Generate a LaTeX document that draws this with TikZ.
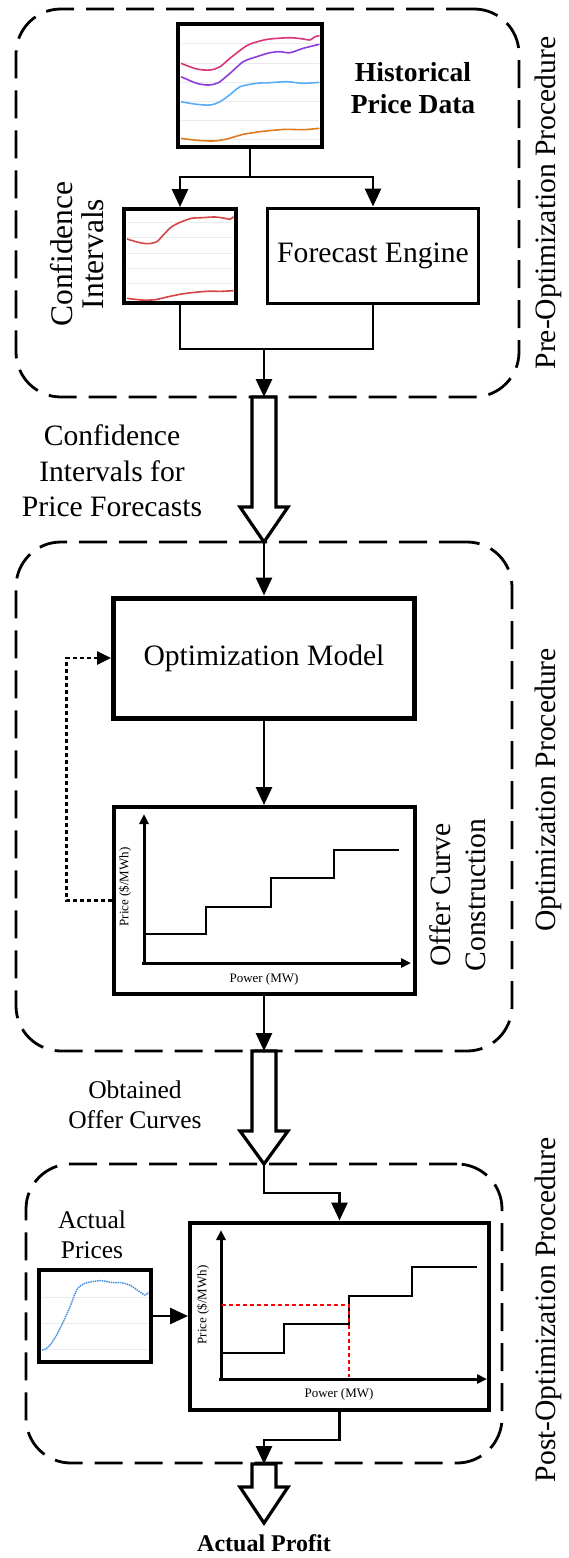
\documentclass[tikz,border=0pt]{standalone}
\usepackage{fontspec}
\setmainfont{Liberation Serif}
\usetikzlibrary{arrows.meta}
\definecolor{cpink}{HTML}{D9357A}
\definecolor{cpurple}{HTML}{8E3CDB}
\definecolor{cblue}{HTML}{5AAEF7}
\definecolor{corange}{HTML}{E07A1F}
\definecolor{cred}{HTML}{D44545}
\definecolor{cdot}{HTML}{4A90E2}
\definecolor{cgrid}{HTML}{EBEBEB}
\newcommand\myfs[2]{\fontsize{#1}{#2}\selectfont}
\newcommand\harrow[3]{\draw[hollow] (252,#1) -- (276,#1) -- (276,#2) -- (288,#2) -- (264,#3) -- (240,#2) -- (252,#2) -- cycle;}
\begin{document}
\begin{tikzpicture}[x=1pt,y=-1pt,
 box/.style={draw, line width=4pt, inner sep=0pt, fill=white},
 secbox/.style={draw, line width=2.8pt, dash pattern=on 28pt off 12pt, rounded corners=45pt, inner sep=0pt},
 conn/.style={line width=2.8pt},
 arr/.style={line width=2.8pt, -{Triangle[length=18pt,width=16pt]}},
 dotarr/.style={line width=2.6pt, dash pattern=on 4pt off 3pt, -{Triangle[length=14pt,width=13pt]}},
 axarr/.style={line width=3pt, -{Triangle[length=10pt,width=9pt]}},
 hollow/.style={draw, line width=3.2pt, fill=white, miter limit=20},
 stepline/.style={line width=1.6pt},
 gridln/.style={cgrid, line width=1pt},
 crv/.style={line width=1.6pt},
 lbl/.style={font=\myfs{29.6}{35.5}, align=center, inner sep=0pt},
 sml/.style={font=\myfs{25.5}{30}, align=center, inner sep=0pt},
 ax/.style={font=\myfs{13}{15}, inner sep=0pt},
]
\useasboundingbox (0,0) rectangle (568,1558);
\fill[white] (0,0) rectangle (568,1558);

% ---------- section frames ----------
\node[secbox, minimum width=503pt, minimum height=388pt] (sec1) at (267.5,203) {};
\node[secbox, minimum width=496pt, minimum height=509pt] (sec2) at (264,796.5) {};
\node[secbox, minimum width=476pt, minimum height=299pt] (sec3) at (264,1313.5) {};

\node[lbl, rotate=90] (sec1lbl) at (548,203) {Pre-Optimization Procedure};
\node[lbl, rotate=90] (sec2lbl) at (548,790) {Optimization Procedure};
\node[lbl, rotate=90] (sec3lbl) at (548,1310) {Post-Optimization Procedure};

% ---------- historical price data ----------
\node[box, minimum width=144pt, minimum height=123pt] (hist) at (250,85.5) {};
\foreach \g in {43,63,82,101,120,139} \draw[gridln] (181,\g) -- (319,\g);
\draw[crv, cpink] plot[smooth] coordinates {(181,63.3) (196.7,69) (210,70) (220,66.7) (230,58.3) (246.7,45.7) (260,41) (270,39) (290,37.7) (303.3,39) (310,40) (315,36.7) (319.5,35.7)};
\draw[crv, cpurple] plot[smooth] coordinates {(181,76.7) (196.7,83.3) (208.3,85) (218.3,82.7) (230,73.3) (243.3,61.7) (256.7,56.7) (270,52.7) (280,51.7) (290,52.7) (303.3,48.3) (319.5,44.3)};
\draw[crv, cblue] plot[smooth] coordinates {(181,101.7) (196.7,104.3) (210,105) (220,101.7) (231.7,93.3) (240,86.7) (256.7,83.3) (270,82.7) (286.7,81.7) (303.3,83.3) (319.5,82.3)};
\draw[crv, corange] plot[smooth] coordinates {(181,138.3) (196.7,140.3) (213.3,141) (226.7,139) (243.3,134.3) (260,131.7) (273.3,130.3) (286.7,129.3) (303.3,129.7) (319.5,128.3)};
\node[font=\myfs{27.5}{32}\bfseries, align=center, inner sep=0pt] (histlbl) at (413,88) {Historical\\Price Data};

% ---------- confidence intervals / forecast engine ----------
\node[box, minimum width=112pt, minimum height=94pt] (conf) at (180,256) {};
\foreach \g in {222,237,253,268,283} \draw[gridln] (127,\g) -- (233,\g);
\draw[crv, cred] plot[smooth] coordinates {(127,239) (138.3,242.3) (148.3,243.7) (156.7,241.7) (163.3,235) (171.7,226.7) (181.7,221.7) (191.7,218.3) (201.7,217.7) (215,217) (225,218.3) (230,219.3) (233.5,216.7)};
\draw[crv, cred] plot[smooth] coordinates {(127,298.3) (141.7,300) (155,299.7) (168.3,296.7) (181.7,294) (195,292.3) (208.3,291.3) (221.7,291.3) (233.5,290.7)};
\node[font=\myfs{31.5}{31}, align=center, inner sep=0pt, rotate=90] (conflbl) at (77,254) {Confidence\\Intervals};

\node[box, line width=3pt, minimum width=211pt, minimum height=95pt, font=\myfs{29.6}{35.5}] (fore) at (373,255.5) {Forecast Engine};

\coordinate (split) at (250,177);
\draw[conn] (hist.south) -- (split);
\draw[arr] (split) -| (conf.north);
\draw[arr] (split) -| (fore.north);
\coordinate (join) at (264,349);
\draw[conn] (conf.south) |- (join);
\draw[conn] (fore.south) |- (join);

% ---------- hollow arrow 1 ----------
\coordinate (ha1top) at (264,397);
\coordinate (ha1tip) at (264,542);
\harrow{397}{507}{542}
\draw[arr] (join) -- (ha1top);
\node[lbl] (cilbl) at (112,471) {Confidence\\Intervals for\\Price Forecasts};

% ---------- optimization ----------
\node[box, line width=5pt, minimum width=301pt, minimum height=120pt, font=\myfs{29.6}{35.5}] (opt) at (264,658) {Optimization Model};
\draw[arr] (ha1tip) -- (opt.north);

\node[box, minimum width=301pt, minimum height=187pt] (offer) at (264,900.5) {};
\draw[arr] (opt.south) -- (offer.north);
\draw[axarr] (144,965) -- (144,814);
\draw[axarr] (142,963) -- (411,963);
\draw[stepline] (145,934) -- (206,934) -- (206,907) -- (271,907) -- (271,878) -- (334,878) -- (334,850) -- (399,850);
\node[ax, rotate=90] (offerp) at (125,887) {Price (\$/MWh)};
\node[ax] (offerq) at (264,979) {Power (MW)};
\node[lbl, rotate=90] (offerlbl) at (457.5,895) {Offer Curve\\Construction};
\draw[dotarr] (offer.west) -- ++(-45,0) |- (opt.west);

% ---------- hollow arrow 2 ----------
\coordinate (ha2top) at (264,1051);
\coordinate (ha2tip) at (264,1164);
\harrow{1051}{1131}{1164}
\draw[arr] (offer.south) -- (ha2top);
\node[sml] (oclbl) at (135,1105) {Obtained\\Offer Curves};

% ---------- post optimization ----------
\node[box, minimum width=112pt, minimum height=92pt] (actual) at (95,1316) {};
\foreach \g in {1297,1323,1349} \draw[gridln] (42,\g) -- (148,\g);
\draw[cdot, line width=1.5pt, dash pattern=on 1.5pt off 0.8pt] plot[smooth] coordinates {(42,1350) (45,1349.3) (50,1345) (56.7,1335) (63.3,1321.7) (70,1306.7) (76.7,1290) (83.3,1284) (91.7,1281.7) (101.7,1280.7) (113.3,1282.7) (121.7,1282.7) (130,1285.3) (138.3,1290.7) (145,1295) (148.5,1292.3)};
\node[sml] (aplbl) at (92,1235) {Actual\\Prices};

\node[box, minimum width=299pt, minimum height=187pt] (final) at (339.5,1316) {};
\draw[axarr] (221,1381) -- (221,1230);
\draw[axarr] (219,1379) -- (487,1379);
\draw[stepline] (222,1353) -- (284,1353) -- (284,1324) -- (349,1324) -- (349,1296) -- (412,1296) -- (412,1267) -- (477,1267);
\draw[red, line width=1.5pt, dash pattern=on 4pt off 3pt] (222,1305) -- (349,1305) -- (349,1377);
\node[ax, rotate=90] (finalp) at (203,1305) {Price (\$/MWh)};
\node[ax] (finalq) at (339,1394) {Power (MW)};

\coordinate (b2) at (264,1193);
\draw[arr] (ha2tip) -- (b2) -| (final.north);
\draw[arr] (actual.east) -- (final.west);

% ---------- hollow arrow 3 ----------
\coordinate (ha3top) at (264,1464);
\coordinate (b3) at (264,1440);
\harrow{1464}{1487}{1523}
\draw[arr] (final.south) |- (b3) -- (ha3top);
\node[font=\myfs{24}{28}\bfseries, inner sep=0pt] (profit) at (264,1543) {Actual Profit};
\end{tikzpicture}
\end{document}
